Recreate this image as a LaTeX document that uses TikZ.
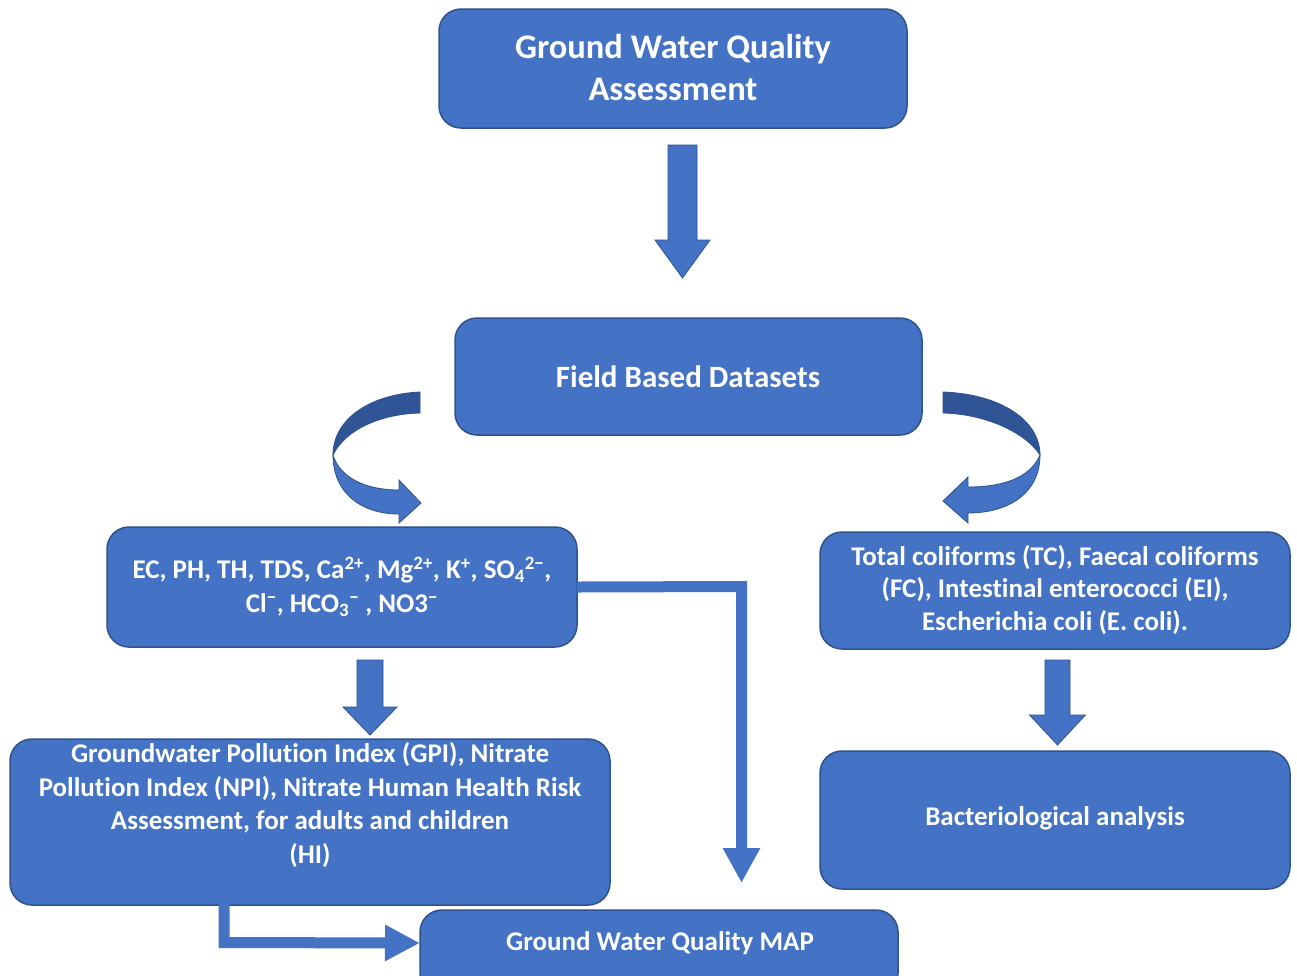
\documentclass[tikz,border=0pt]{standalone}
\usepackage{fontspec}
\setmainfont{Carlito}[Ligatures={NoCommon,NoRequired}]
\usetikzlibrary{arrows.meta,calc}
\definecolor{boxfill}{HTML}{4472C4}
\definecolor{boxline}{HTML}{2F528F}
\definecolor{darkband}{HTML}{2F5597}
\newcommand\blockdown[6]{%
  \filldraw[blockarr] (#1-#5,#2) -- (#1+#5,#2) -- (#1+#5,#3) -- (#1+#6,#3) -- (#1,#4) -- (#1-#6,#3) -- (#1-#5,#3) -- cycle;}
\tikzset{
  box/.style={draw=boxline, fill=boxfill, line width=1.5pt, rounded corners=22pt},
  boxtext/.style={text=white, font=\bfseries, align=center, inner sep=0pt},
  blockarr/.style={fill=boxfill, draw=boxline, line width=0.8pt, line join=miter},
  elbow/.style={draw=boxfill, line width=11pt},
}
\begin{document}
\begin{tikzpicture}[x=1pt,y=-1pt]
\clip (0,0) rectangle (1297,975);
\fill[white] (0,0) rectangle (1297,975);
% boxes
\draw[box] (439,9) rectangle (907,128);
\node[boxtext, font=\bfseries\fontsize{34.5}{42}\selectfont] (b1) at (673,68) {Ground Water Quality\\Assessment};
\draw[box] (455,318) rectangle (922,435);
\node[boxtext, font=\bfseries\fontsize{31}{32}\selectfont] (b2) at (688,377) {Field Based Datasets};
\draw[box] (107,527) rectangle (577,647);
\node[boxtext, font=\bfseries\fontsize{27}{34}\selectfont] (b3) at (342,587) {EC, PH, TH, TDS, Ca\textsuperscript{2+}, Mg\textsuperscript{2+}, K\textsuperscript{+}, SO\textsubscript{4}\textsuperscript{2\textminus},\\Cl\textsuperscript{\textminus}, HCO\textsubscript{3}\textsuperscript{\textminus} , NO3\textsuperscript{\textminus}};
\draw[box] (820,532) rectangle (1290,649);
\node[boxtext, font=\bfseries\fontsize{27}{32.5}\selectfont] (b4) at (1055,590) {Total coliforms (TC), Faecal coliforms\\(FC), Intestinal enterococci (EI),\\Escherichia coli (E. coli).};
\draw[box] (820,751) rectangle (1290,889);
\node[boxtext, font=\bfseries\fontsize{27}{32}\selectfont] (b5) at (1055,818) {Bacteriological analysis};
\draw[box] (10,739) rectangle (610,905);
\node[boxtext, font=\bfseries\fontsize{27}{33.5}\selectfont] (b6) at (310,805) {Groundwater Pollution Index (GPI), Nitrate\\Pollution Index (NPI), Nitrate Human Health Risk\\Assessment, for adults and children\\(HI)};
\draw[box] (420,910) rectangle (898,995);
\node[boxtext, font=\bfseries\fontsize{27}{32}\selectfont] (b7) at (660,943) {Ground Water Quality MAP};
% straight block arrows
\blockdown{682.5}{145}{240}{278}{14.5}{27.5}
\blockdown{370}{660}{707}{735}{13}{27}
\blockdown{1057.5}{660}{715}{745}{12.5}{28}
% curved arrow left
\filldraw[fill=darkband, draw=boxline, line width=0.8pt]
  (420,392) .. controls (372,394) and (333,418) .. (333,455)
  .. controls (345,430) and (380,414) .. (420,413) -- cycle;
\filldraw[fill=boxfill, draw=boxline, line width=0.8pt]
  (333,455) .. controls (333,492) and (360,514) .. (399,514)
  -- (399,523) -- (421,503) -- (399,480) -- (399,490)
  .. controls (366,490) and (340,478) .. (333,455) -- cycle;
% curved arrow right
\filldraw[fill=darkband, draw=boxline, line width=0.8pt]
  (943,392) .. controls (1000,394) and (1040,420) .. (1040,455)
  .. controls (1025,432) and (985,414) .. (943,413) -- cycle;
\filldraw[fill=boxfill, draw=boxline, line width=0.8pt]
  (1040,455) .. controls (1040,492) and (1010,513) .. (968,513)
  -- (968,523) -- (943,501) -- (968,477) -- (968,487)
  .. controls (1003,487) and (1030,478) .. (1040,455) -- cycle;
% elbow connectors
\coordinate (e1) at (741.5,883);
\draw[elbow, -{Triangle[length=35pt,width=35pt]}] (b3.east -| 577,586.5) -- (741.5,586.5) -- (e1);
\draw[elbow, -{Triangle[length=35pt,width=34pt]}] (224,904) -- (224,942.5) -- ($(b7.west -| 420,942.5)$);
\end{tikzpicture}
\end{document}
